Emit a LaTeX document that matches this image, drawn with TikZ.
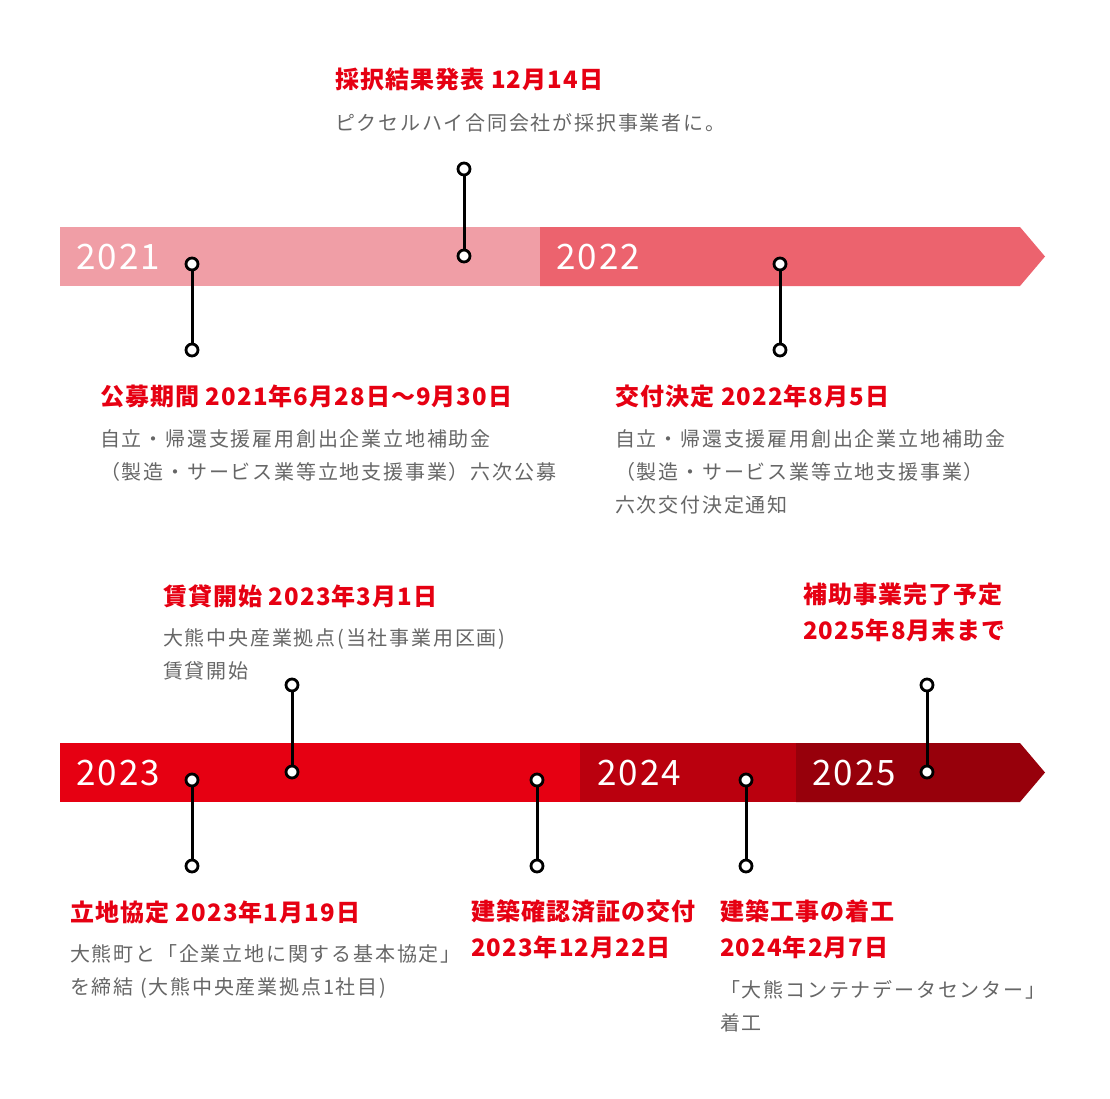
\documentclass[tikz,border=0pt]{standalone}
\usepackage{fontspec}
\newfontfamily\jptitle[LetterSpace=4.5]{Noto Sans CJK JP}
\newfontfamily\jpbody[LetterSpace=9]{Noto Sans CJK JP}
\newfontfamily\yearfont[LetterSpace=6]{Noto Sans CJK JP}
\definecolor{yearA}{HTML}{F09EA6}
\definecolor{yearB}{HTML}{EC636E}
\definecolor{yearC}{HTML}{E60012}
\definecolor{yearD}{HTML}{BA000E}
\definecolor{yearE}{HTML}{97000B}
\definecolor{accent}{HTML}{E60012}
\definecolor{bodygray}{HTML}{666666}
\tikzset{
  pinhead/.style={circle, draw=black, line width=2.8pt, fill=white, minimum size=12pt, inner sep=0pt},
  pinline/.style={line width=3pt, black},
  yearlabel/.style={anchor=base west, inner sep=0pt, text=white, font=\yearfont\fontsize{35}{35}\selectfont},
  eventtitle/.style={anchor=base west, inner sep=0pt, align=left, text=accent, font=\jptitle\bfseries\fontsize{24}{35.5}\selectfont},
  eventbody/.style={anchor=base west, inner sep=0pt, align=left, text=bodygray, font=\jpbody\fontsize{20}{33}\selectfont},
}

\begin{document}
\begin{tikzpicture}[x=1pt, y=-1pt]
        \useasboundingbox (0,0) rectangle (1110,1098);

        % bars
        \fill[yearA] (60,227) rectangle (540,286);
        \fill[yearB] (540,227) -- (1020,227) -- (1045,256.5) -- (1020,286) -- (540,286) -- cycle;
        \fill[yearC] (60,743) rectangle (580,802);
        \fill[yearD] (580,743) rectangle (796,802);
        \fill[yearE] (796,743) -- (1020,743) -- (1045,772.5) -- (1020,802) -- (796,802) -- cycle;

        % years
        \node[yearlabel] (y2021) at (76,269) {2021};
        \node[yearlabel] (y2022) at (556,269) {2022};
        \node[yearlabel] (y2023) at (76,785) {2023};
        \node[yearlabel] (y2024) at (597,785) {2024};
        \node[yearlabel] (y2025) at (812,785) {2025};

        % pins
        \foreach \name/\x/\ya/\yb in {boshu/192/264/350, saitaku/464/169/256, kofu/780/264/350,
                                      ritchi/192/780/866, chintai/292/685/772, kakunin/537/780/866,
                                      chakko/746/780/866, kanryo/927/685/772}{
          \node[pinhead] (\name a) at (\x,\ya) {};
          \node[pinhead] (\name b) at (\x,\yb) {};
          \draw[pinline] (\name a) -- (\name b);
        }

        % labels (multi-line nodes sit on their last baseline)
        \node[eventtitle] (saitakuT) at (335,88) {採択結果発表 12月14日};
        \node[eventbody] (saitakuB) at (335,130) {ピクセルハイ合同会社が採択事業者に。};

        \node[eventtitle] (boshuT) at (100,405) {公募期間 2021年6月28日～9月30日};
        \node[eventbody] (boshuB) at (100,479) {自立・帰還支援雇用創出企業立地補助金\\（製造・サービス業等立地支援事業）六次公募};

        \node[eventtitle] (kofuT) at (615,405) {交付決定 2022年8月5日};
        \node[eventbody] (kofuB) at (615,512) {自立・帰還支援雇用創出企業立地補助金\\（製造・サービス業等立地支援事業）\\六次交付決定通知};

        \node[eventtitle] (chintaiT) at (163,605) {賃貸開始 2023年3月1日};
        \node[eventbody] (chintaiB) at (163,678) {大熊中央産業拠点(当社事業用区画)\\賃貸開始};

        \node[eventtitle] (kanryoT) at (803,639) {補助事業完了予定\\2025年8月末まで};

        \node[eventtitle] (ritchiT) at (70,921) {立地協定 2023年1月19日};
        \node[eventbody] (ritchiB) at (70,994) {大熊町と「企業立地に関する基本協定」\\を締結 (大熊中央産業拠点1社目)};

        \node[eventtitle] (kakuninT) at (471,956) {建築確認済証の交付\\2023年12月22日};

        \node[eventtitle] (chakkoT) at (720,956) {建築工事の着工\\2024年2月7日};
        \node[eventbody] (chakkoB) at (720,1030) {「大熊コンテナデータセンター」\\着工};
    \end{tikzpicture}
\end{document}
